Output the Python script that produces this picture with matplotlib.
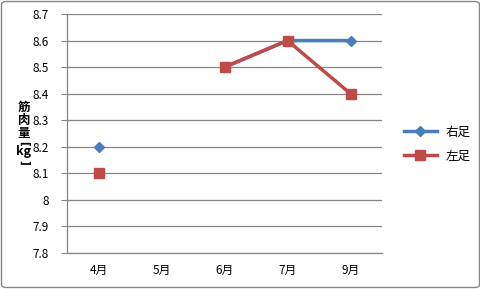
import numpy as np
import matplotlib
matplotlib.use("Agg")
import matplotlib.pyplot as plt
from matplotlib.patches import FancyBboxPatch

plt.rcParams['font.family'] = ['Noto Sans CJK JP', 'DejaVu Sans']

categories = ['4月', '5月', '6月', '7月', '9月']
right_foot = [8.2, np.nan, 8.5, 8.6, 8.6]
left_foot = [8.1, np.nan, 8.5, 8.6, 8.4]
yticks = [7.8, 7.9, 8.0, 8.1, 8.2, 8.3, 8.4, 8.5, 8.6, 8.7]
ytick_labels = ['7.8', '7.9', '8', '8.1', '8.2', '8.3', '8.4', '8.5', '8.6', '8.7']
ylabel_parts = ['筋', '肉', '量', '[', 'kg', ']']

W, H = 481, 289
fig = plt.figure(figsize=(W/100, H/100), dpi=100)
ax = fig.add_axes([67/W, 1-253/H, (382-67)/W, (253-14)/H])

x = np.arange(len(categories))
blue = '#4A7EBB'
red = '#BE4B48'
ax.plot(x, right_foot, color=blue, lw=2.5, marker='D', ms=5.5, mec=blue, mfc=blue, label='右足', zorder=3)
ax.plot(x, left_foot, color=red, lw=2.5, marker='s', ms=7, mec=red, mfc=red, label='左足', zorder=4)

ax.set_xlim(-0.5, len(categories)-0.5)
ax.set_ylim(7.8, 8.7)
ax.set_yticks(yticks)
ax.set_yticklabels(ytick_labels, fontsize=8.5)
ax.set_xticks(x)
ax.set_xticklabels(categories, fontsize=8.5)
ax.tick_params(axis='x', length=0, pad=8)
ax.tick_params(axis='y', length=4, color='#868686', pad=9)
ax.grid(axis='y', color='#868686', lw=0.9)
ax.set_axisbelow(True)
for s in ['top', 'right']:
    ax.spines[s].set_visible(False)
for s in ['left', 'bottom']:
    ax.spines[s].set_color('#868686')
    ax.spines[s].set_linewidth(0.9)

# vertical y-axis title, stacked characters
ypos = [107, 120.5, 134, 143.5, 152, 162]
rots = [0, 0, 0, -90, 0, -90]
sizes = [9, 9, 9, 7.5, 9, 7.5]
for part, yp, r, fs in zip(ylabel_parts, ypos, rots, sizes):
    fig.text(24/W, 1-yp/H, part, fontsize=fs, fontweight='bold', ha='center', va='center',
             rotation=r, family=['DejaVu Sans'] if part in '[]' else None)

leg = fig.legend(loc='center left', bbox_to_anchor=(393/W, 1-144/H), frameon=False, fontsize=9,
                 handlelength=2.6, labelspacing=0.9, handletextpad=0.7)

border = FancyBboxPatch((1.5/W, 1.5/H), (W-3)/W, (H-3)/H, boxstyle='round,pad=0,rounding_size=0.01',
                        transform=fig.transFigure, fill=False, ec='#868686', lw=1)
fig.patches.append(border)

fig.savefig('out.png', dpi=100)
